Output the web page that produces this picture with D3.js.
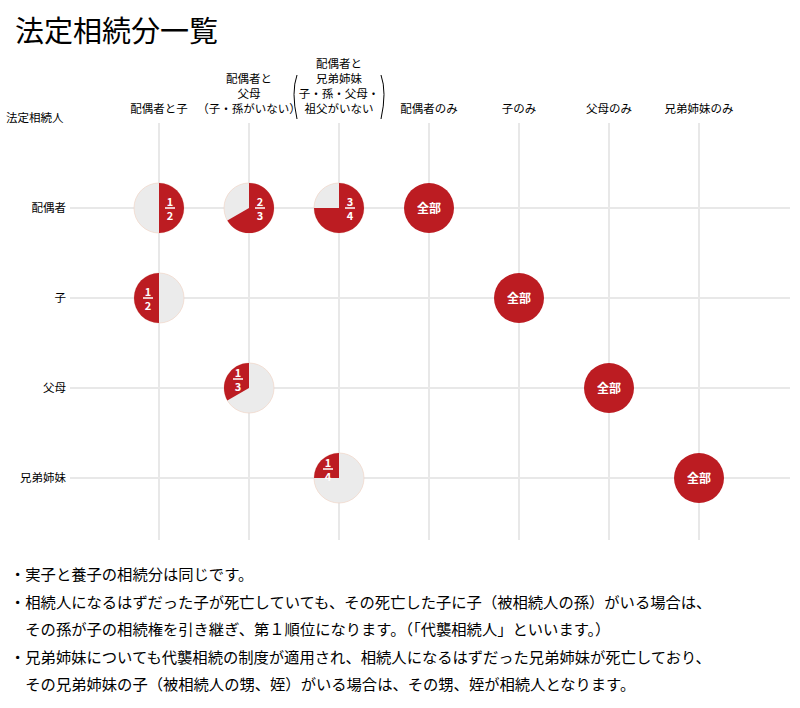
<!DOCTYPE html>
<html><head><meta charset="utf-8">
<script src="https://cdn.jsdelivr.net/npm/d3@7"></script>
<style>body{margin:0;background:#fff;font-family:"Noto Sans CJK JP",sans-serif}</style>
</head><body><svg id="c" width="800" height="708"></svg>
<script>
const columns = [["配偶者と子"],["配偶者と","父母","（子・孫がいない）"],["配偶者と","兄弟姉妹","子・孫・父母・","祖父がいない"],["配偶者のみ"],["子のみ"],["父母のみ"],["兄弟姉妹のみ"]];
const rows = ["配偶者","子","父母","兄弟姉妹"];
// [row, col, numerator, denominator]
const shares = [[0,0,1,2],[0,1,2,3],[0,2,3,4],[0,3,1,1],[1,0,1,2],[1,4,1,1],[2,1,1,3],[2,5,1,1],[3,2,1,4],[3,6,1,1]];
const notes = [
 "・実子と養子の相続分は同じです。",
 "・相続人になるはずだった子が死亡していても、その死亡した子に子（被相続人の孫）がいる場合は、",
 "　その孫が子の相続権を引き継ぎ、第１順位になります。（「代襲相続人」といいます。）",
 "・兄弟姉妹についても代襲相続の制度が適用され、相続人になるはずだった兄弟姉妹が死亡しており、",
 "　その兄弟姉妹の子（被相続人の甥、姪）がいる場合は、その甥、姪が相続人となります。"];

const svg = d3.select("#c");
const red = "#bc1c22", gray = "#ebebeb";
const x = d3.scalePoint().domain(d3.range(columns.length)).range([159,699]);
const y = d3.scalePoint().domain(d3.range(rows.length)).range([208,478]);
const r = 25;

svg.append("text").attr("x",15).attr("y",42).attr("font-size",29).text("法定相続分一覧");

const grid = svg.append("g").attr("stroke","#e8e8e8").attr("stroke-width",2);
grid.selectAll(".v").data(x.domain()).join("line").attr("x1",d=>x(d)).attr("x2",d=>x(d)).attr("y1",123).attr("y2",540);
grid.selectAll(".h").data(y.domain()).join("line").attr("x1",70).attr("x2",790).attr("y1",d=>y(d)).attr("y2",d=>y(d));

svg.append("text").attr("x",6).attr("y",122).attr("font-size",11.5).text("法定相続人");
svg.selectAll(".rl").data(rows).join("text").attr("x",66).attr("y",(d,i)=>y(i)+4)
  .attr("text-anchor","end").attr("font-size",11.5).text(d=>d);

columns.forEach((lines,i)=>{
  const t = svg.append("text").attr("text-anchor","middle").attr("font-size",11.5);
  const n = lines.length;
  lines.forEach((s,j)=>t.append("tspan").attr("x",x(i)).attr("y",113-(n-1-j)*15).text(s));
  if (n===4){
    svg.append("path").attr("d",`M${x(i)-42},${75} q-6,17 0,44`).attr("fill","none").attr("stroke","#000").attr("stroke-width",1);
    svg.append("path").attr("d",`M${x(i)+42},${75} q6,17 0,44`).attr("fill","none").attr("stroke","#000").attr("stroke-width",1);
  }
});

const arc = d3.arc().innerRadius(0).outerRadius(r);
shares.forEach(([ri,ci,num,den])=>{
  const g = svg.append("g").attr("transform",`translate(${x(ci)},${y(ri)})`);
  const f = num/den, a = f*2*Math.PI;
  if (f>=1){
    g.append("circle").attr("r",r).attr("fill",red);
    g.append("text").attr("text-anchor","middle").attr("y",5).attr("fill","#fff").attr("font-size",12).attr("font-weight","bold").text("全部");
    return;
  }
  const s0 = ri===0 ? 0 : -a, s1 = ri===0 ? a : 0;
  g.append("circle").attr("r",r).attr("fill",gray).attr("stroke","#f0d8cc").attr("stroke-width",0.8);
  g.append("path").attr("d",arc({startAngle:s0,endAngle:s1})).attr("fill",red);
  const dx = ri===0 ? 11 : -11, dy = f>=0.5 ? 0 : -9;
  const lab = g.append("g").attr("transform",`translate(${dx},${dy})`).attr("fill","#fff").attr("font-weight","bold").attr("font-size",11).attr("text-anchor","middle");
  lab.append("text").attr("y",-2).text(num);
  lab.append("line").attr("x1",-5).attr("x2",5).attr("stroke","#fff").attr("stroke-width",1.5);
  lab.append("text").attr("y",2).attr("dominant-baseline","hanging").text(den);
});

svg.selectAll(".note").data(notes).join("text").attr("x",10).attr("y",(d,i)=>580+i*27.5)
  .attr("font-size",15.3).text(d=>d);
</script></body></html>
